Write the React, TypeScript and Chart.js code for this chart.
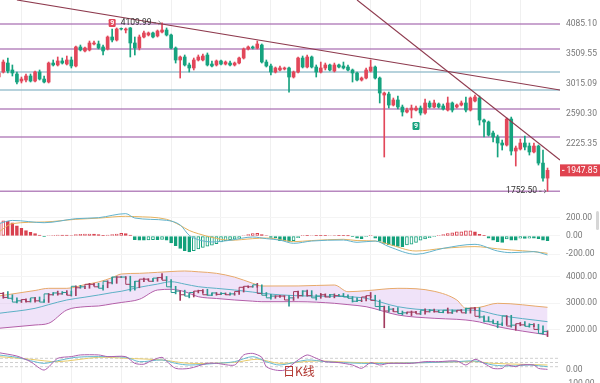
import React, { useEffect, useRef } from "react";
import { Chart, registerables } from "chart.js";

Chart.register(...registerables);

const FONT = "Roboto, 'Liberation Sans', Arial, sans-serif";
Chart.defaults.font.family = FONT;

// ---------------- data ----------------
const candleOpen = [
  3124, 3204, 3353, 3237, 3172, 3061, 3077, 3140, 3061, 3204,
  3092, 3046, 3353, 3320, 3388, 3336, 3405, 3303, 3637, 3564,
  3582, 3692, 3692, 3637, 3600, 3825, 3767, 3994, 3963, 4004,
  3711, 3618, 3825, 3864, 3904, 3845, 3923, 3963, 3864, 3618,
  3405, 3457, 3320, 3270, 3405, 3405, 3492, 3336, 3320, 3388,
  3336, 3353, 3320, 3353, 3439, 3600, 3637, 3618, 3673, 3370,
  3303, 3204, 3237, 3253, 3270, 3124, 3204, 3439, 3286, 3457,
  3286, 3204, 3270, 3320, 3220, 3320, 3303, 3286, 3237, 3188,
  3077, 3108, 3220, 3286, 3108, 2852, 2866, 2711, 2781, 2684,
  2617, 2643, 2643, 2670, 2604, 2739, 2684, 2725, 2698, 2643,
  2739, 2684, 2711, 2739, 2643, 2767, 2809, 2513, 2488, 2353,
  2306, 2237, 2214, 2526, 2148, 2170, 2237, 2203, 2138, 2203,
  2021, 1873,
];
const candleHigh = [
  3204, 3405, 3439, 3320, 3204, 3124, 3172, 3172, 3220, 3237,
  3140, 3370, 3405, 3457, 3439, 3474, 3457, 3655, 3673, 3637,
  3748, 3748, 3748, 3673, 3845, 3983, 4004, 4004, 4004, 4014,
  3825, 3864, 3943, 3923, 3923, 3963, 4109.99, 4004, 3884, 3637,
  3474, 3492, 3353, 3439, 3492, 3510, 3528, 3388, 3405, 3405,
  3388, 3388, 3370, 3457, 3618, 3655, 3655, 3748, 3692, 3405,
  3336, 3286, 3303, 3286, 3286, 3220, 3457, 3474, 3492, 3474,
  3320, 3370, 3353, 3336, 3353, 3336, 3370, 3320, 3253, 3204,
  3124, 3270, 3405, 3303, 3124, 2895, 2895, 2809, 2837, 2711,
  2670, 2711, 2698, 2698, 2795, 2767, 2781, 2739, 2725, 2823,
  2753, 2725, 2767, 2823, 2823, 2852, 2837, 2526, 2500, 2377,
  2329, 2271, 2539, 2551, 2203, 2282, 2317, 2237, 2237, 2214,
  2159, 1971,
];
const candleLow = [
  3108, 3188, 3188, 3140, 3015, 3031, 3046, 3046, 3046, 3077,
  3031, 3031, 3303, 3303, 3336, 3320, 3270, 3286, 3564, 3546,
  3564, 3673, 3600, 3492, 3582, 3729, 3748, 3963, 3904, 3457,
  3492, 3582, 3806, 3845, 3806, 3825, 3904, 3845, 3600, 3353,
  3108, 3303, 3204, 3237, 3388, 3388, 3303, 3286, 3303, 3320,
  3320, 3303, 3303, 3336, 3422, 3582, 3600, 3600, 3353, 3286,
  3156, 3188, 3220, 3237, 2895, 3108, 3188, 3270, 3270, 3270,
  3124, 3188, 3237, 3220, 3204, 3270, 3253, 3220, 3046, 3061,
  3061, 3092, 3204, 3092, 2739, 2084, 2670, 2698, 2657, 2564,
  2604, 2539, 2630, 2577, 2590, 2670, 2670, 2670, 2643, 2630,
  2617, 2670, 2698, 2617, 2630, 2753, 2450, 2306, 2317, 2248,
  2084, 2159, 2203, 2105, 1991, 2159, 2159, 2105, 2127, 2001,
  1845, 1752.5,
];
const candleClose = [
  3188, 3370, 3220, 3188, 3046, 3092, 3140, 3061, 3204, 3092,
  3046, 3353, 3320, 3388, 3353, 3405, 3303, 3637, 3582, 3618,
  3711, 3711, 3618, 3564, 3825, 3767, 3983, 3983, 3983, 3711,
  3618, 3825, 3904, 3904, 3825, 3943, 3963, 3864, 3618, 3405,
  3457, 3320, 3270, 3405, 3457, 3474, 3320, 3303, 3388, 3336,
  3370, 3320, 3353, 3439, 3600, 3637, 3618, 3692, 3370, 3303,
  3204, 3270, 3270, 3270, 3124, 3204, 3439, 3286, 3457, 3286,
  3204, 3270, 3320, 3237, 3320, 3286, 3270, 3237, 3188, 3077,
  3108, 3237, 3286, 3108, 2881, 2881, 2711, 2781, 2684, 2617,
  2643, 2670, 2670, 2604, 2739, 2684, 2739, 2684, 2657, 2739,
  2643, 2711, 2739, 2643, 2809, 2823, 2513, 2488, 2329, 2306,
  2237, 2214, 2526, 2148, 2181, 2237, 2192, 2138, 2203, 2021,
  1873, 1947.85,
];

const mainTicks = [4085.1, 3509.55, 3015.09, 2590.3, 2225.35];
const levelValues = [4085.1, 3600, 3204, 2925, 2657, 2306, 1752.5];
const levelKinds = ["p", "p", "b", "b", "p", "p", "p"];
const trendAIdx = [4.0, 123.75];
const trendAVal = [4613, 2925];
const trendBIdx = [79.0, 123.75];
const trendBVal = [4613, 2053];
const highMarkIdx = 36;
const lowMarkIdx = 121;
const badgeIdx = [25, 92];
const badgeVal = [4106, 2438];
const badgeText = ["9", "9"];
const badgeIsUp = [true, false];

const macdHist = [
  140, 165, 160, 145, 110, 85, 60, 40, 25, 10,
  -5, 5, 8, 10, 10, 10, 5, 15, 18, 20,
  22, 22, 15, 8, 10, 15, 20, 28, 25, 10,
  -40, -45, -45, -42, -40, -40, -38, -45, -75, -105,
  -135, -160, -175, -160, -140, -125, -110, -100, -85, -65,
  -50, -40, -35, -25, 5, 15, 25, 30, 15, 5,
  -15, -20, -50, -55, -58, -50, -18, 4, 4, 5,
  4, 4, 4, 5, 5, 4, 3, 2, -5, -25,
  -30, -5, 4, -25, -60, -80, -98, -105, -115, -116,
  -98, -90, -70, -45, -33, -18, -5, 4, 15, 25,
  35, 45, 46, 55, 56, 45, 18, 3, -25, -45,
  -62, -70, -33, -45, -46, -25, -26, -25, -25, -28,
  -45, -50,
];
const macdLineIdx = [0, 3, 10, 17, 22, 28, 30, 37, 40, 42, 44, 47, 51, 56, 59, 62, 65, 69, 76, 79, 83, 86, 92, 98, 105, 110, 113, 118, 121];
const difVal = [135, 170, 145, 189, 200, 244, 196, 171, 120, 7, -40, -65, -47, -11, -29, -45, -80, -55, -44, -69, -55, -116, -200, -135, -91, -164, -182, -171, -207];
const deaVal = [45, 135, 153, 182, 195, 215, 212, 182, 116, 60, 25, -15, -47, -29, -22, -40, -62, -50, -36, -50, -55, -91, -164, -135, -116, -140, -153, -171, -189];
const macdTicks = [200, 0, -200];

const bbIdx = [0, 8, 11, 15, 19, 22, 25, 27, 31, 35, 38, 41, 44, 48, 52, 56, 58, 66, 74, 77, 81, 88, 96, 101, 103, 106, 110, 121];
const bbUpper = [3273, 3480, 3561, 3561, 3700, 3800, 3960, 4097, 4123, 4160, 4190, 4210, 4180, 4123, 3980, 3749, 3648, 3650, 3685, 3434, 3472, 3561, 3450, 3124, 2813, 2850, 3000, 2850];
const bbMiddle = [2625, 2812, 2950, 3124, 3230, 3311, 3400, 3450, 3600, 3720, 3809, 3720, 3622, 3560, 3498, 3420, 3374, 3280, 3260, 3247, 3187, 2873, 2749, 2749, 2749, 2720, 2562, 2311];
const bbLower = [2064, 2187, 2251, 2749, 2873, 2899, 2980, 3030, 3150, 3498, 3524, 3434, 3247, 3180, 3124, 3080, 3060, 3060, 3000, 2950, 2873, 2562, 2438, 2400, 2375, 2300, 2124, 1813];
const bbTicks = [4000, 3000, 2000];

const jIdx = [0, 4, 7, 10, 13, 16, 18, 22, 24, 28, 30, 32, 34, 36, 37, 39, 42, 46, 48, 52, 54, 56, 58, 59, 61, 63, 66, 68, 70, 72, 75, 78, 80, 82, 84, 86, 91, 94, 97, 101, 103, 105, 107, 109, 111, 112, 114, 115, 118, 119, 121];
const jVal = [120, 96, 56, -4, 80, 92, 104, 104, 92, 92, 44, 38, 68, 87, 60, 8, 8, 44, 44, 32, 104, 115, 87, 20, -4, -4, 68, 104, 80, 56, 49, 32, 8, 49, 32, 44, 44, 56, 56, 61, 32, 73, 44, 8, 8, 32, 20, 32, 32, 8, 1];
const kIdx = [0, 4, 7, 10, 13, 17, 22, 28, 31, 36, 39, 42, 48, 52, 56, 59, 62, 68, 72, 80, 86, 94, 101, 105, 109, 113, 117, 121];
const kVal = [104, 87, 63, 44, 63, 87, 92, 87, 56, 68, 44, 32, 44, 56, 92, 56, 32, 68, 56, 44, 44, 49, 56, 61, 32, 25, 32, 20];
const dIdx = [0, 7, 13, 22, 28, 36, 42, 52, 57, 62, 70, 80, 94, 105, 109, 121];
const dVal = [92, 73, 56, 87, 80, 68, 44, 51, 73, 44, 61, 49, 49, 56, 44, 32];
const kdjRefLevels = [80, 50, 20];
const kdjTicks = [0, -100];

// ---------------- layout / style ----------------
const X_MIN = 0.27;
const X_MAX = 123.75;
const AXIS_W = 40;
const MAIN_MIN = 1676.6;
const MAIN_MAX = 4612.6;
const UP = "#e2475a";
const DOWN = "#16a37f";
const LEVEL_PURPLE = "rgba(165,105,175,0.8)";
const LEVEL_BLUE = "rgba(140,185,200,0.85)";
const TREND = "#8e3a4e";

const candleIdx = candleClose.map((_, i) => i);
const isUp = (i: number) => candleClose[i] >= candleOpen[i];
const pts = (ix: number[], vs: number[]) => ix.map((x, k) => ({ x, y: vs[k] }));

function xAxis(): any {
  return {
    type: "linear",
    min: X_MIN,
    max: X_MAX,
    offset: false,
    afterFit: (s: any) => {
      s.height = 0;
      s.paddingLeft = 0;
      s.paddingRight = 0;
    },
    afterBuildTicks: (s: any) => {
      const t: any[] = [];
      for (let v = 5; v < X_MAX; v += 11) t.push({ value: v });
      s.ticks = t;
    },
    ticks: { display: false },
    grid: { color: "#f0f0f0", drawTicks: false, offset: false },
    border: { display: false },
  };
}

function yAxis(type: string, min: number, max: number, ticks: number[], grid: boolean): any {
  return {
    type,
    min,
    max,
    position: "right",
    beginAtZero: false,
    afterFit: (s: any) => {
      s.width = AXIS_W;
      s.paddingTop = 0;
      s.paddingBottom = 0;
    },
    afterBuildTicks: (s: any) => {
      s.ticks = ticks.map((v) => ({ value: v }));
    },
    ticks: {
      color: "#777",
      font: { size: 8.5, family: FONT },
      padding: 6,
      autoSkip: false,
      callback: (v: any) => Number(v).toFixed(2),
    },
    grid: { display: grid, color: "#f4f4f4", drawTicks: false },
    border: { display: false },
  };
}

const baseOptions = {
  animation: false,
  responsive: false,
  devicePixelRatio: 1,
  events: [],
  layout: { padding: 0, autoPadding: false },
  plugins: { legend: { display: false }, tooltip: { enabled: false } },
};

const mainOverlay = {
  id: "mainOverlay",
  afterDraw(chart: any) {
    const { ctx, chartArea } = chart;
    const xs = chart.scales.x;
    const ys = chart.scales.y;
    ctx.save();
    const drawExt = (i: number, v: number) => {
      const px = xs.getPixelForValue(i);
      const py = ys.getPixelForValue(v);
      const tip = px - 1.5;
      ctx.strokeStyle = "#555";
      ctx.lineWidth = 0.8;
      ctx.beginPath();
      ctx.moveTo(tip - 7, py);
      ctx.lineTo(tip - 4.5, py);
      ctx.stroke();
      ctx.beginPath();
      ctx.moveTo(tip - 2, py - 1.8);
      ctx.lineTo(tip, py);
      ctx.lineTo(tip - 2, py + 1.8);
      ctx.stroke();
      ctx.fillStyle = "#333";
      ctx.font = `8.5px ${FONT}`;
      ctx.textAlign = "right";
      ctx.textBaseline = "middle";
      ctx.fillText(v.toFixed(2), tip - 9, py);
    };
    drawExt(highMarkIdx, candleHigh[highMarkIdx]);
    drawExt(lowMarkIdx, candleLow[lowMarkIdx]);

    badgeIdx.forEach((bi, k) => {
      const px = xs.getPixelForValue(bi);
      const py = ys.getPixelForValue(badgeVal[k]);
      ctx.fillStyle = badgeIsUp[k] ? UP : DOWN;
      ctx.beginPath();
      (ctx as any).roundRect(px - 3.5, py - 4, 7, 8, 1.2);
      ctx.fill();
      ctx.fillStyle = "#fff";
      ctx.font = `bold 7px ${FONT}`;
      ctx.textAlign = "center";
      ctx.textBaseline = "middle";
      ctx.fillText(badgeText[k], px, py + 0.5);
    });

    const last = candleClose[candleClose.length - 1];
    const py = ys.getPixelForValue(last);
    ctx.fillStyle = "#e0434f";
    ctx.fillRect(chartArea.right, py - 6, AXIS_W, 12);
    ctx.fillStyle = "#fff";
    ctx.fillRect(chartArea.right + 2, py - 0.5, 2.5, 1);
    ctx.font = `8.5px ${FONT}`;
    ctx.textAlign = "left";
    ctx.textBaseline = "middle";
    ctx.fillText(last.toFixed(2), chartArea.right + 6.5, py + 0.5);
    ctx.restore();
  },
};

function mainConfig(): any {
  const levelLines = levelValues.map((v, k) => ({
    type: "line",
    data: [
      { x: X_MIN, y: v },
      { x: X_MAX, y: v },
    ],
    borderColor: levelKinds[k] === "p" ? LEVEL_PURPLE : LEVEL_BLUE,
    borderWidth: 1.5,
    pointRadius: 0,
    order: 10,
  }));
  return {
    type: "bar",
    data: {
      datasets: [
        ...levelLines,
        {
          type: "bar",
          data: candleIdx.map((i) => ({ x: i, y: [candleLow[i], candleHigh[i]] })),
          backgroundColor: (c: any) => (isUp(c.dataIndex) ? UP : DOWN),
          barThickness: 1,
          grouped: false,
          order: 6,
        },
        {
          type: "bar",
          data: candleIdx.map((i) => ({ x: i, y: [candleOpen[i], candleClose[i]] })),
          backgroundColor: (c: any) => (isUp(c.dataIndex) ? UP : DOWN),
          barThickness: 3,
          grouped: false,
          order: 5,
        },
        { type: "line", data: pts(trendAIdx, trendAVal), borderColor: TREND, borderWidth: 1.1, pointRadius: 0, order: 1 },
        { type: "line", data: pts(trendBIdx, trendBVal), borderColor: TREND, borderWidth: 1.1, pointRadius: 0, order: 1 },
      ],
    },
    options: {
      ...baseOptions,
      scales: { x: xAxis(), y: yAxis("logarithmic", MAIN_MIN, MAIN_MAX, mainTicks, false) },
    },
    plugins: [mainOverlay],
  };
}

function macdConfig(): any {
  const HR = "#d8404e";
  const HG = "#13a07b";
  return {
    type: "bar",
    data: {
      datasets: [
        { type: "line", data: pts(macdLineIdx, difVal), borderColor: "#63b3cc", borderWidth: 1, pointRadius: 0, cubicInterpolationMode: "monotone", order: 1 },
        { type: "line", data: pts(macdLineIdx, deaVal), borderColor: "#e6b25f", borderWidth: 1, pointRadius: 0, cubicInterpolationMode: "monotone", order: 2 },
        {
          type: "bar",
          data: candleIdx.map((i) => ({ x: i, y: macdHist[i] })),
          barThickness: 3,
          grouped: false,
          borderWidth: 1,
          borderSkipped: false,
          backgroundColor: (c: any) => {
            const i = c.dataIndex;
            const v = macdHist[i];
            const prev = i > 0 ? macdHist[i - 1] : v;
            if (v > prev) return "rgba(255,255,255,1)";
            return v >= 0 ? HR : HG;
          },
          borderColor: (c: any) => (macdHist[c.dataIndex] >= 0 ? HR : HG),
          order: 3,
        },
      ],
    },
    options: {
      ...baseOptions,
      scales: { x: xAxis(), y: yAxis("linear", -284, 393, macdTicks, true) },
    },
  };
}

function bbConfig(): any {
  return {
    type: "bar",
    data: {
      datasets: [
        {
          type: "line",
          data: pts(bbIdx, bbUpper),
          borderColor: "#e7a96a",
          borderWidth: 1,
          pointRadius: 0,
          cubicInterpolationMode: "monotone",
          fill: "+2",
          backgroundColor: "rgba(218,186,240,0.4)",
          order: 10,
        },
        { type: "line", data: pts(bbIdx, bbMiddle), borderColor: "#5cb0c5", borderWidth: 1, pointRadius: 0, cubicInterpolationMode: "monotone", order: 9 },
        { type: "line", data: pts(bbIdx, bbLower), borderColor: "#b35fa8", borderWidth: 1, pointRadius: 0, cubicInterpolationMode: "monotone", order: 8 },
        {
          type: "bar",
          data: candleIdx.map((i) => ({ x: i, y: [candleLow[i], candleHigh[i]] })),
          backgroundColor: (c: any) => (isUp(c.dataIndex) ? "#a23b5e" : "#2b9a93"),
          barThickness: 1,
          grouped: false,
          order: 2,
        },
        {
          type: "line",
          data: candleIdx.map((i) => ({ x: i, y: candleClose[i] })),
          stepped: "after",
          borderWidth: 1,
          pointRadius: 0,
          borderColor: "#2b9a93",
          segment: {
            borderColor: (c: any) => (isUp(c.p0DataIndex) ? "#a23b5e" : "#2b9a93"),
          },
          order: 1,
        },
      ],
    },
    options: {
      ...baseOptions,
      scales: { x: xAxis(), y: yAxis("linear", 1438, 4547, bbTicks, true) },
    },
  };
}

function kdjConfig(): any {
  const refs = kdjRefLevels.map((v) => ({
    data: [
      { x: X_MIN, y: v },
      { x: X_MAX, y: v },
    ],
    borderColor: "#cfcfcf",
    borderDash: [3, 2],
    borderWidth: 1,
    pointRadius: 0,
    order: 10,
  }));
  return {
    type: "line",
    data: {
      datasets: [
        ...refs,
        { data: pts(dIdx, dVal), borderColor: "#e8cb6a", borderWidth: 1, pointRadius: 0, tension: 0.3, order: 3 },
        { data: pts(kIdx, kVal), borderColor: "#66b9cf", borderWidth: 1, pointRadius: 0, tension: 0.3, order: 2 },
        { data: pts(jIdx, jVal), borderColor: "#ad5fae", borderWidth: 1, pointRadius: 0, tension: 0.25, order: 1 },
      ],
    },
    options: {
      ...baseOptions,
      scales: { x: xAxis(), y: yAxis("linear", -110.7, 175, kdjTicks, false) },
    },
  };
}

export default function App() {
  const mainRef = useRef<HTMLCanvasElement>(null);
  const macdRef = useRef<HTMLCanvasElement>(null);
  const bbRef = useRef<HTMLCanvasElement>(null);
  const kdjRef = useRef<HTMLCanvasElement>(null);

  useEffect(() => {
    const charts: Chart[] = [];
    if (mainRef.current) charts.push(new Chart(mainRef.current, mainConfig()));
    if (macdRef.current) charts.push(new Chart(macdRef.current, macdConfig()));
    if (bbRef.current) charts.push(new Chart(bbRef.current, bbConfig()));
    if (kdjRef.current) charts.push(new Chart(kdjRef.current, kdjConfig()));
    return () => charts.forEach((c) => c.destroy());
  }, []);

  const cv = (top: number, h: number): React.CSSProperties => ({
    position: "absolute",
    left: 0,
    top,
    width: 600,
    height: h,
    display: "block",
  });

  return (
    <div
      style={{
        position: "absolute",
        left: 0,
        top: 0,
        width: 600,
        height: 383,
        overflow: "hidden",
        background: "#fff",
      }}
    >
      <canvas ref={mainRef} width={600} height={200} style={cv(0, 200)} />
      <canvas ref={macdRef} width={600} height={62} style={cv(200, 62)} />
      <canvas ref={bbRef} width={600} height={83} style={cv(262, 83)} />
      <canvas ref={kdjRef} width={600} height={40} style={cv(345, 40)} />
      <div
        style={{
          position: "absolute",
          left: 283,
          top: 364,
          fontSize: 12,
          lineHeight: "13px",
          color: "#b0342e",
          fontFamily: "'Noto Sans CJK SC', sans-serif",
          whiteSpace: "nowrap",
        }}
      >
        日K线
      </div>
      <div
        style={{
          position: "absolute",
          left: 596,
          top: 211,
          width: 3,
          height: 19,
          borderRadius: 2,
          background: "#d6d6d6",
        }}
      />
    </div>
  );
}
